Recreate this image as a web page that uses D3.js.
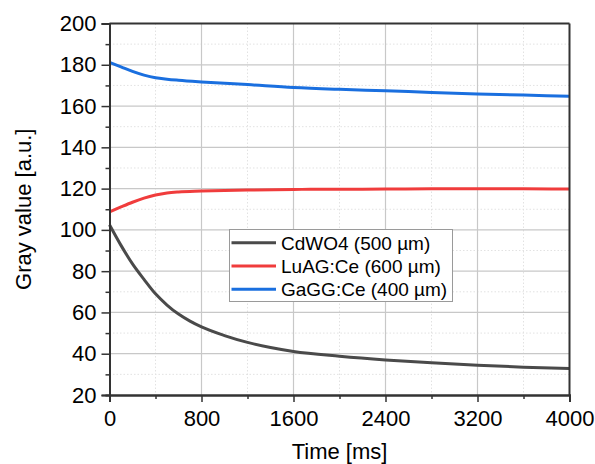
<!DOCTYPE html>
<html>
<head>
<meta charset="utf-8">
<script src="https://cdn.jsdelivr.net/npm/d3@7"></script>
<style>
  html, body { margin: 0; padding: 0; background: #fff; }
  svg { display: block; }
  text { font-family: "Liberation Sans", Arial, sans-serif; fill: #000; }
</style>
</head>
<body>
<svg id="chart" width="595" height="464"></svg>
<script>
// Measured gray value of three scintillators over time
const timeCdWO4 = [0, 100, 200, 300, 400, 500, 600, 700, 800, 1000, 1200, 1400, 1600, 2000, 2400, 2800, 3200, 3600, 4000];
const grayCdWO4 = [102.5, 92.5, 83.5, 76, 69, 63.6, 59.2, 55.8, 53, 48.8, 45.5, 43, 41.1, 38.8, 37, 35.6, 34.4, 33.5, 32.9];

const timeLuAG = [0, 100, 200, 300, 400, 500, 600, 800, 1200, 1600, 2000, 2400, 2800, 3200, 3600, 4000];
const grayLuAG = [108.7, 111.1, 113.4, 115.4, 116.9, 117.9, 118.4, 118.8, 119.3, 119.6, 119.7, 119.8, 119.9, 119.9, 119.9, 119.8];

const timeGaGG = [0, 100, 200, 300, 400, 500, 600, 800, 1200, 1600, 2000, 2400, 2800, 3200, 3600, 4000];
const grayGaGG = [181.2, 179, 176.8, 175, 173.7, 173, 172.5, 171.7, 170.4, 169, 168.1, 167.4, 166.6, 165.9, 165.3, 164.7];

const seriesNames = ["CdWO4 (500 µm)", "LuAG:Ce (600 µm)", "GaGG:Ce (400 µm)"];
const seriesColors = ["#4a4a4a", "#f03c3c", "#1a6fdf"];

const xMajorTicks = [0, 800, 1600, 2400, 3200, 4000];
const xMinorTicks = [400, 1200, 2000, 2800, 3600];
const yMajorTicks = [20, 40, 60, 80, 100, 120, 140, 160, 180, 200];
const yMinorTicks = [30, 50, 70, 90, 110, 130, 150, 170, 190];

const xTitle = "Time [ms]";
const yTitle = "Gray value [a.u.]";

const svg = d3.select("#chart");
const plotLeft = 109.5, plotRight = 569.5, plotTop = 23.5, plotBottom = 395;

const x = d3.scaleLinear().domain([0, 4000]).range([plotLeft, plotRight]);
const y = d3.scaleLinear().domain([20, 200]).range([plotBottom, plotTop]);

// minor grid (dotted)
const grid = svg.append("g");
grid.selectAll(".vminor").data(xMinorTicks).join("line")
  .attr("x1", d => x(d)).attr("x2", d => x(d)).attr("y1", plotTop).attr("y2", plotBottom)
  .attr("stroke", "#e2e2e2").attr("stroke-width", 1).attr("stroke-dasharray", "1.5,2");
grid.selectAll(".hminor").data(yMinorTicks).join("line")
  .attr("x1", plotLeft).attr("x2", plotRight).attr("y1", d => y(d)).attr("y2", d => y(d))
  .attr("stroke", "#e2e2e2").attr("stroke-width", 1).attr("stroke-dasharray", "1.5,2");
// major grid (solid)
grid.selectAll(".vmajor").data(xMajorTicks.slice(1, -1)).join("line")
  .attr("x1", d => x(d)).attr("x2", d => x(d)).attr("y1", plotTop).attr("y2", plotBottom)
  .attr("stroke", "#c8c8c8").attr("stroke-width", 1.2);
grid.selectAll(".hmajor").data(yMajorTicks.slice(1, -1)).join("line")
  .attr("x1", plotLeft).attr("x2", plotRight).attr("y1", d => y(d)).attr("y2", d => y(d))
  .attr("stroke", "#c8c8c8").attr("stroke-width", 1.2);

// data lines
const series = [
  timeCdWO4.map((t, i) => [t, grayCdWO4[i]]),
  timeLuAG.map((t, i) => [t, grayLuAG[i]]),
  timeGaGG.map((t, i) => [t, grayGaGG[i]])
];
const line = d3.line().x(d => x(d[0])).y(d => y(d[1])).curve(d3.curveMonotoneX);
svg.append("g").selectAll("path").data(series).join("path")
  .attr("d", line).attr("fill", "none")
  .attr("stroke", (d, i) => seriesColors[i]).attr("stroke-width", 3)
  .attr("stroke-linejoin", "round");

// frame (top and right)
svg.append("line").attr("x1", plotLeft).attr("x2", plotRight).attr("y1", plotTop).attr("y2", plotTop)
  .attr("stroke", "#333").attr("stroke-width", 2);
svg.append("line").attr("x1", plotRight).attr("x2", plotRight).attr("y1", plotTop).attr("y2", plotBottom)
  .attr("stroke", "#333").attr("stroke-width", 2);

// axes
const xAxis = svg.append("g").attr("transform", `translate(0,${plotBottom})`)
  .call(d3.axisBottom(x).tickValues(xMajorTicks).tickSize(7).tickPadding(8).tickFormat(d3.format("d")));
const xMinor = svg.append("g").attr("transform", `translate(0,${plotBottom})`)
  .call(d3.axisBottom(x).tickValues(xMinorTicks).tickSize(4).tickFormat(""));
const yAxis = svg.append("g").attr("transform", `translate(${plotLeft},0)`)
  .call(d3.axisLeft(y).tickValues(yMajorTicks).tickSize(8).tickPadding(5).tickFormat(d3.format("d")));
const yMinor = svg.append("g").attr("transform", `translate(${plotLeft},0)`)
  .call(d3.axisLeft(y).tickValues(yMinorTicks).tickSize(4).tickFormat(""));

[xAxis, xMinor, yAxis, yMinor].forEach(g => {
  g.select(".domain").attr("stroke", "#333").attr("stroke-width", 2);
  g.selectAll(".tick line").attr("stroke", "#333").attr("stroke-width", 1.5);
  g.selectAll("text").style("font-family", "'Liberation Sans', Arial, sans-serif")
    .style("font-size", "22px").attr("fill", "#000");
});

// axis titles
svg.append("text").attr("x", (plotLeft + plotRight) / 2).attr("y", 459)
  .attr("text-anchor", "middle").style("font-size", "22px").text(xTitle);
svg.append("text").attr("transform", `translate(31,${(plotTop + plotBottom) / 2}) rotate(-90)`)
  .attr("text-anchor", "middle").style("font-size", "22px").text(yTitle);

// legend
const lg = svg.append("g");
lg.append("rect").attr("x", 229.5).attr("y", 229.5).attr("width", 223).attr("height", 72)
  .attr("fill", "#fff").attr("stroke", "#9a9a9a").attr("stroke-width", 1);
const rows = lg.selectAll("g.row").data(seriesNames).join("g")
  .attr("transform", (d, i) => `translate(0,${242.7 + i * 23.3})`);
rows.append("line").attr("x1", 231.5).attr("x2", 276).attr("y1", 0).attr("y2", 0)
  .attr("stroke", (d, i) => seriesColors[i]).attr("stroke-width", 3);
rows.append("text").attr("x", 281).attr("y", 0).attr("dy", "0.36em")
  .style("font-size", "19px").text(d => d);
</script>
</body>
</html>
